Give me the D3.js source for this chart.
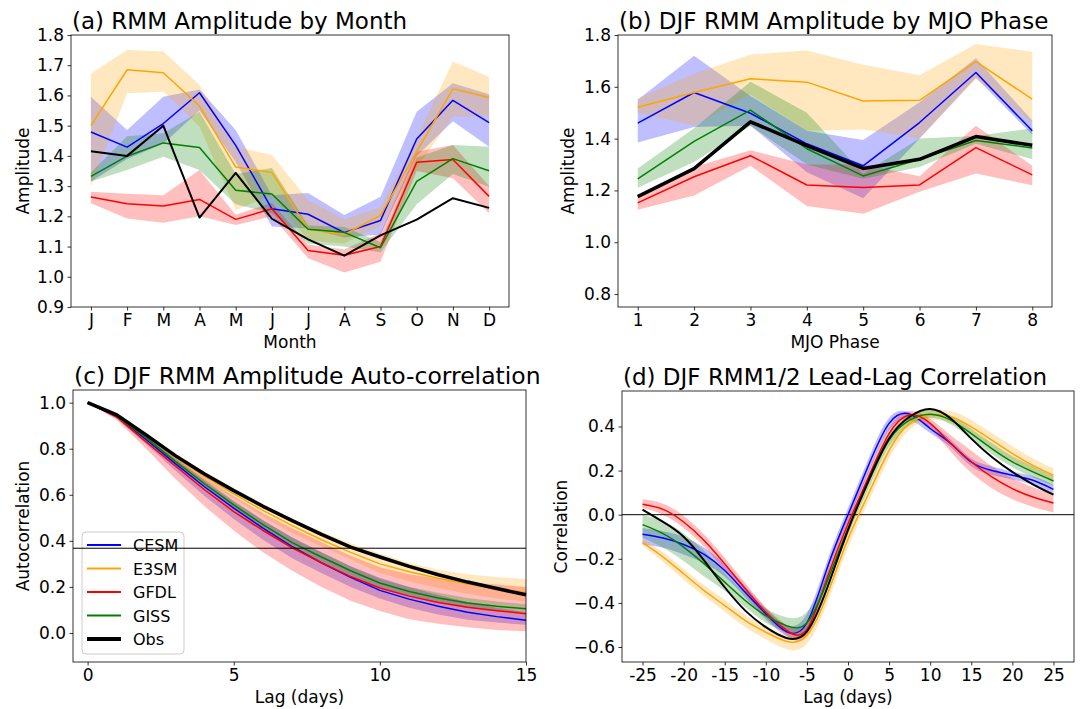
<!DOCTYPE html>
<html>
<head>
<meta charset="utf-8">
<script src="https://cdn.jsdelivr.net/npm/d3@7"></script>
<style>
  body { margin: 0; background: #fff; }
  text { font-family: "DejaVu Sans", sans-serif; fill: #000; }
</style>
</head>
<body>
<div id="chart"></div>
<script>
const COLORS = { CESM: "#0000ff", E3SM: "#ffa500", GFDL: "#ff0000", GISS: "#008000", Obs: "#000000" };
const MODELS = ["CESM", "E3SM", "GFDL", "GISS"];

// (a) RMM amplitude by month
const months = ["J", "F", "M", "A", "M", "J", "J", "A", "S", "O", "N", "D"];
const cesmMonth   = [1.479, 1.429, 1.507, 1.609, 1.435, 1.225, 1.207, 1.146, 1.186, 1.456, 1.584, 1.510];
const cesmMonthLo = [1.315, 1.39, 1.44, 1.55, 1.38, 1.166, 1.16, 1.13, 1.14, 1.40, 1.515, 1.43];
const cesmMonthHi = [1.596, 1.486, 1.596, 1.62, 1.486, 1.27, 1.277, 1.204, 1.265, 1.546, 1.64, 1.604];
const e3smMonth   = [1.50, 1.685, 1.675, 1.565, 1.363, 1.345, 1.157, 1.14, 1.203, 1.414, 1.622, 1.593];
const e3smMonthLo = [1.298, 1.607, 1.612, 1.497, 1.221, 1.27, 1.12, 1.11, 1.17, 1.36, 1.53, 1.53];
const e3smMonthHi = [1.673, 1.75, 1.745, 1.635, 1.43, 1.403, 1.254, 1.19, 1.23, 1.46, 1.712, 1.662];
const gfdlMonth   = [1.264, 1.242, 1.234, 1.256, 1.19, 1.225, 1.087, 1.071, 1.10, 1.379, 1.388, 1.266];
const gfdlMonthLo = [1.243, 1.193, 1.179, 1.20, 1.171, 1.20, 1.061, 1.014, 1.05, 1.35, 1.326, 1.21];
const gfdlMonthHi = [1.281, 1.275, 1.27, 1.353, 1.205, 1.245, 1.107, 1.09, 1.145, 1.414, 1.436, 1.30];
const gissMonth   = [1.332, 1.399, 1.443, 1.428, 1.286, 1.274, 1.157, 1.147, 1.096, 1.316, 1.391, 1.351];
const gissMonthLo = [1.315, 1.353, 1.397, 1.353, 1.24, 1.21, 1.11, 1.10, 1.08, 1.24, 1.34, 1.298];
const gissMonthHi = [1.345, 1.465, 1.475, 1.546, 1.34, 1.36, 1.17, 1.165, 1.115, 1.395, 1.436, 1.43];
const obsMonth    = [1.415, 1.40, 1.50, 1.196, 1.344, 1.192, 1.124, 1.07, 1.137, 1.189, 1.26, 1.228];

// (b) DJF RMM amplitude by MJO phase
const phases = [1, 2, 3, 4, 5, 6, 7, 8];
const cesmPhase   = [1.46, 1.578, 1.498, 1.38, 1.295, 1.462, 1.655, 1.43];
const cesmPhaseLo = [1.385, 1.445, 1.45, 1.27, 1.17, 1.40, 1.635, 1.415];
const cesmPhaseHi = [1.55, 1.72, 1.565, 1.43, 1.395, 1.54, 1.71, 1.47];
const e3smPhase   = [1.521, 1.578, 1.631, 1.618, 1.545, 1.548, 1.697, 1.552];
const e3smPhaseLo = [1.50, 1.45, 1.57, 1.43, 1.435, 1.40, 1.63, 1.46];
const e3smPhaseHi = [1.555, 1.65, 1.725, 1.74, 1.685, 1.645, 1.765, 1.735];
const gfdlPhase   = [1.152, 1.253, 1.334, 1.221, 1.211, 1.221, 1.365, 1.26];
const gfdlPhaseLo = [1.125, 1.18, 1.295, 1.14, 1.11, 1.195, 1.265, 1.22];
const gfdlPhaseHi = [1.17, 1.29, 1.355, 1.30, 1.30, 1.255, 1.45, 1.295];
const gissPhase   = [1.245, 1.389, 1.51, 1.361, 1.256, 1.32, 1.393, 1.364];
const gissPhaseLo = [1.21, 1.31, 1.45, 1.30, 1.245, 1.29, 1.38, 1.32];
const gissPhaseHi = [1.285, 1.44, 1.62, 1.50, 1.265, 1.40, 1.41, 1.44];
const obsPhase    = [1.176, 1.284, 1.465, 1.373, 1.285, 1.32, 1.408, 1.374];

// (c) DJF RMM amplitude auto-correlation
const acLags = [0, 1, 2, 3, 4, 5, 6, 7, 8, 9, 10, 11, 12, 13, 14, 15];
const cesmAc   = [1.0, 0.94, 0.84, 0.735, 0.635, 0.542, 0.455, 0.375, 0.305, 0.242, 0.185, 0.147, 0.116, 0.09, 0.071, 0.055];
const cesmAcLo = [1.0, 0.93, 0.82, 0.705, 0.595, 0.495, 0.405, 0.325, 0.26, 0.2, 0.15, 0.11, 0.08, 0.057, 0.045, 0.036];
const cesmAcHi = [1.0, 0.947, 0.855, 0.755, 0.66, 0.57, 0.49, 0.415, 0.35, 0.29, 0.24, 0.2, 0.165, 0.135, 0.11, 0.09];
const e3smAc   = [1.0, 0.945, 0.857, 0.762, 0.68, 0.604, 0.532, 0.466, 0.405, 0.35, 0.30, 0.266, 0.238, 0.213, 0.193, 0.176];
const e3smAcLo = [1.0, 0.94, 0.845, 0.745, 0.66, 0.585, 0.505, 0.435, 0.375, 0.32, 0.26, 0.225, 0.195, 0.17, 0.15, 0.137];
const e3smAcHi = [1.0, 0.95, 0.87, 0.78, 0.70, 0.63, 0.56, 0.495, 0.44, 0.39, 0.345, 0.305, 0.275, 0.255, 0.243, 0.234];
const gfdlAc   = [1.0, 0.937, 0.83, 0.725, 0.622, 0.527, 0.445, 0.37, 0.305, 0.245, 0.195, 0.16, 0.132, 0.112, 0.097, 0.084];
const gfdlAcLo = [1.0, 0.925, 0.80, 0.67, 0.55, 0.445, 0.35, 0.27, 0.20, 0.14, 0.095, 0.06, 0.04, 0.025, 0.013, 0.007];
const gfdlAcHi = [1.0, 0.95, 0.86, 0.765, 0.675, 0.595, 0.52, 0.455, 0.395, 0.335, 0.285, 0.255, 0.235, 0.22, 0.21, 0.20];
const gissAc   = [1.0, 0.942, 0.848, 0.745, 0.648, 0.556, 0.47, 0.392, 0.33, 0.27, 0.217, 0.18, 0.152, 0.13, 0.116, 0.105];
const gissAcLo = [1.0, 0.935, 0.835, 0.73, 0.63, 0.535, 0.45, 0.375, 0.31, 0.25, 0.198, 0.16, 0.13, 0.11, 0.097, 0.088];
const gissAcHi = [1.0, 0.948, 0.86, 0.76, 0.665, 0.575, 0.49, 0.415, 0.35, 0.29, 0.236, 0.2, 0.175, 0.152, 0.137, 0.125];
const obsAc    = [1.0, 0.947, 0.86, 0.77, 0.69, 0.618, 0.55, 0.488, 0.428, 0.373, 0.33, 0.289, 0.253, 0.221, 0.193, 0.166];
const efoldLevel = 0.368;

// (d) DJF RMM1/2 lead-lag correlation
const llLags = [-25, -22.5, -20, -17.5, -15, -12.5, -10, -7.5, -5, -2.5, 0, 2.5, 5, 7.5, 10, 12.5, 15, 17.5, 20, 22.5, 25];
const cesmLL   = [-0.089, -0.106, -0.135, -0.18, -0.253, -0.352, -0.45, -0.53, -0.49, -0.238, 0.0, 0.224, 0.414, 0.456, 0.391, 0.323, 0.239, 0.2, 0.179, 0.156, 0.115];
const cesmLLLo = [-0.135, -0.15, -0.18, -0.22, -0.28, -0.375, -0.475, -0.55, -0.53, -0.27, -0.03, 0.19, 0.385, 0.43, 0.37, 0.305, 0.22, 0.18, 0.16, 0.135, 0.095];
const cesmLLHi = [-0.06, -0.075, -0.10, -0.15, -0.225, -0.325, -0.425, -0.50, -0.45, -0.205, 0.03, 0.255, 0.44, 0.465, 0.41, 0.34, 0.255, 0.22, 0.195, 0.175, 0.135];
const e3smLL   = [-0.127, -0.192, -0.268, -0.344, -0.412, -0.48, -0.533, -0.574, -0.548, -0.36, -0.11, 0.095, 0.292, 0.414, 0.452, 0.444, 0.398, 0.338, 0.277, 0.224, 0.179];
const e3smLLLo = [-0.14, -0.215, -0.295, -0.37, -0.44, -0.51, -0.565, -0.61, -0.585, -0.40, -0.15, 0.06, 0.255, 0.385, 0.43, 0.415, 0.365, 0.305, 0.245, 0.19, 0.15];
const e3smLLHi = [-0.11, -0.17, -0.245, -0.32, -0.385, -0.455, -0.505, -0.545, -0.515, -0.325, -0.075, 0.13, 0.325, 0.44, 0.475, 0.47, 0.43, 0.37, 0.31, 0.255, 0.21];
const gfdlLL   = [0.047, 0.024, -0.033, -0.117, -0.223, -0.336, -0.442, -0.523, -0.52, -0.283, -0.041, 0.171, 0.368, 0.452, 0.414, 0.323, 0.24, 0.171, 0.118, 0.08, 0.053];
const gfdlLLLo = [0.03, 0.0, -0.06, -0.145, -0.25, -0.36, -0.465, -0.545, -0.55, -0.31, -0.07, 0.14, 0.34, 0.43, 0.39, 0.285, 0.19, 0.12, 0.07, 0.035, 0.01];
const gfdlLLHi = [0.07, 0.05, -0.005, -0.09, -0.195, -0.31, -0.42, -0.50, -0.49, -0.255, -0.01, 0.20, 0.395, 0.47, 0.435, 0.36, 0.29, 0.22, 0.165, 0.125, 0.095];
const gissLL   = [-0.045, -0.086, -0.147, -0.223, -0.306, -0.389, -0.458, -0.503, -0.49, -0.30, -0.064, 0.148, 0.338, 0.429, 0.456, 0.429, 0.368, 0.30, 0.24, 0.194, 0.153];
const gissLLLo = [-0.105, -0.15, -0.21, -0.28, -0.345, -0.42, -0.49, -0.535, -0.525, -0.33, -0.09, 0.12, 0.31, 0.405, 0.44, 0.41, 0.345, 0.275, 0.215, 0.17, 0.13];
const gissLLHi = [0.0, -0.03, -0.085, -0.165, -0.265, -0.355, -0.425, -0.465, -0.44, -0.265, -0.035, 0.175, 0.36, 0.45, 0.475, 0.45, 0.39, 0.325, 0.265, 0.22, 0.175];
const obsLL    = [0.023, -0.033, -0.10, -0.208, -0.329, -0.435, -0.51, -0.559, -0.53, -0.329, -0.07, 0.156, 0.345, 0.444, 0.479, 0.436, 0.345, 0.262, 0.194, 0.138, 0.091];

const W = 1085, H = 709;
const svg = d3.select("#chart").append("svg").attr("width", W).attr("height", H);
svg.append("rect").attr("width", W).attr("height", H).attr("fill", "#fff");

const minus = (s) => s.replace("-", "\u2212");

function makeSeries(xs, list) {
  return list.map(([name, vals, lo, hi]) => ({
    name,
    color: COLORS[name],
    points: xs.map((x, i) => ({ x, v: vals[i], lo: lo ? lo[i] : null, hi: hi ? hi[i] : null })),
    band: !!lo,
  }));
}

function drawPanel(cfg) {
  const { box, xDomain, yDomain, series } = cfg;
  const x = d3.scaleLinear().domain(xDomain).range([box.left, box.right]);
  const y = d3.scaleLinear().domain(yDomain).range([box.bottom, box.top]);
  const g = svg.append("g");
  const curve = cfg.curve || d3.curveLinear;

  // bands first, then lines
  const area = d3.area()
    .x((d) => x(d.x)).y0((d) => y(d.lo)).y1((d) => y(d.hi))
    .curve(curve);
  series.filter((s) => s.band).forEach((s) => {
    g.append("path").attr("d", area(s.points))
      .attr("fill", s.color).attr("fill-opacity", 0.25);
  });

  if (cfg.hline !== undefined) {
    g.append("line")
      .attr("x1", box.left).attr("x2", box.right)
      .attr("y1", y(cfg.hline)).attr("y2", y(cfg.hline))
      .attr("stroke", "#000").attr("stroke-width", 1);
  }

  const line = d3.line().x((d) => x(d.x)).y((d) => y(d.v)).curve(curve);
  series.forEach((s) => {
    g.append("path").attr("d", line(s.points))
      .attr("fill", "none").attr("stroke", s.color)
      .attr("stroke-width", s.name === "Obs" ? cfg.obsWidth : 1.5)
      .attr("stroke-linejoin", "round");
  });

  // axes
  const xAxis = d3.axisBottom(x).tickValues(cfg.xTicks).tickSize(3.5).tickPadding(3.5).tickSizeOuter(0)
    .tickFormat(cfg.xFormat);
  const yAxis = d3.axisLeft(y).tickValues(cfg.yTicks).tickSize(3.5).tickPadding(3.5).tickSizeOuter(0)
    .tickFormat(cfg.yFormat);
  const xg = g.append("g").attr("transform", `translate(0,${box.bottom})`).call(xAxis);
  const yg = g.append("g").attr("transform", `translate(${box.left},0)`).call(yAxis);
  [xg, yg].forEach((a) => {
    a.select(".domain").remove();
    a.selectAll(".tick line").attr("stroke", "#000").attr("stroke-width", 0.8);
    a.selectAll(".tick text").attr("font-size", "17px").attr("font-family", "DejaVu Sans").attr("fill", "#000");
  });

  g.append("rect")
    .attr("x", box.left).attr("y", box.top)
    .attr("width", box.right - box.left).attr("height", box.bottom - box.top)
    .attr("fill", "none").attr("stroke", "#000").attr("stroke-width", 0.8);

  // title, axis labels
  g.append("text").attr("x", box.left + 1).attr("y", box.top - 6)
    .attr("font-size", cfg.titleSize || "23px").text(cfg.title);
  g.append("text").attr("x", (box.left + box.right) / 2).attr("y", box.bottom + 41)
    .attr("text-anchor", "middle").attr("font-size", "17px").text(cfg.xLabel);
  g.append("text")
    .attr("transform", `translate(${cfg.yLabelX},${(box.top + box.bottom) / 2}) rotate(-90)`)
    .attr("text-anchor", "middle").attr("font-size", "17px").text(cfg.yLabel);

  return { g, x, y };
}

// (a)
drawPanel({
  box: { left: 71, right: 509, top: 35, bottom: 307 },
  xDomain: [-0.55, 11.55], yDomain: [0.9, 1.8],
  xTicks: d3.range(months.length), xFormat: (i) => months[i],
  yTicks: [0.9, 1.0, 1.1, 1.2, 1.3, 1.4, 1.5, 1.6, 1.7, 1.8], yFormat: d3.format(".1f"),
  title: "(a) RMM Amplitude by Month", xLabel: "Month", yLabel: "Amplitude", yLabelX: 29,
  obsWidth: 2,
  series: makeSeries(d3.range(months.length), [
    ["CESM", cesmMonth, cesmMonthLo, cesmMonthHi],
    ["E3SM", e3smMonth, e3smMonthLo, e3smMonthHi],
    ["GFDL", gfdlMonth, gfdlMonthLo, gfdlMonthHi],
    ["GISS", gissMonth, gissMonthLo, gissMonthHi],
    ["Obs", obsMonth],
  ]),
});

// (b)
drawPanel({
  box: { left: 618, right: 1052, top: 35, bottom: 307 },
  xDomain: [0.65, 8.35], yDomain: [0.75, 1.8],
  xTicks: phases, xFormat: (v) => String(v),
  yTicks: [0.8, 1.0, 1.2, 1.4, 1.6, 1.8], yFormat: d3.format(".1f"),
  title: "(b) DJF RMM Amplitude by MJO Phase", xLabel: "MJO Phase", yLabel: "Amplitude", yLabelX: 574,
  obsWidth: 3.5,
  series: makeSeries(phases, [
    ["CESM", cesmPhase, cesmPhaseLo, cesmPhaseHi],
    ["E3SM", e3smPhase, e3smPhaseLo, e3smPhaseHi],
    ["GFDL", gfdlPhase, gfdlPhaseLo, gfdlPhaseHi],
    ["GISS", gissPhase, gissPhaseLo, gissPhaseHi],
    ["Obs", obsPhase],
  ]),
});

// (c)
const pc = drawPanel({
  box: { left: 73, right: 526, top: 390, bottom: 662 },
  xDomain: [-0.5, 15], yDomain: [-0.126, 1.055],
  xTicks: [0, 5, 10, 15], xFormat: (v) => String(v),
  yTicks: [0, 0.2, 0.4, 0.6, 0.8, 1.0], yFormat: d3.format(".1f"),
  title: "(c) DJF RMM Amplitude Auto-correlation", titleSize: "23.5px",
  xLabel: "Lag (days)", yLabel: "Autocorrelation", yLabelX: 29,
  obsWidth: 3.5,
  series: makeSeries(acLags, [
    ["CESM", cesmAc, cesmAcLo, cesmAcHi],
    ["E3SM", e3smAc, e3smAcLo, e3smAcHi],
    ["GFDL", gfdlAc, gfdlAcLo, gfdlAcHi],
    ["GISS", gissAc, gissAcLo, gissAcHi],
    ["Obs", obsAc],
  ]),
});

// legend in (c)
const legendG = pc.g.append("g").attr("transform", "translate(82,532)");
legendG.append("rect").attr("width", 102).attr("height", 122).attr("rx", 4)
  .attr("fill", "#fff").attr("fill-opacity", 0.8).attr("stroke", "#cccccc").attr("stroke-width", 1);
[...MODELS, "Obs"].forEach((name, i) => {
  const yy = 13 + i * 23.5;
  legendG.append("line").attr("x1", 5).attr("x2", 39).attr("y1", yy).attr("y2", yy)
    .attr("stroke", COLORS[name]).attr("stroke-width", name === "Obs" ? 4 : 1.8);
  legendG.append("text").attr("x", 51).attr("y", yy + 6).attr("font-size", "16px").text(name);
});
// 1/e reference line drawn over the legend
pc.g.append("line")
  .attr("x1", 73).attr("x2", 526)
  .attr("y1", pc.y(efoldLevel)).attr("y2", pc.y(efoldLevel))
  .attr("stroke", "#000").attr("stroke-width", 1);

// (d)
drawPanel({
  box: { left: 622, right: 1074, top: 391, bottom: 662 },
  xDomain: [-27.5, 27.5], yDomain: [-0.668, 0.561],
  xTicks: d3.range(-25, 26, 5), xFormat: (v) => String(v),
  yTicks: [-0.6, -0.4, -0.2, 0, 0.2, 0.4], yFormat: (v) => minus(d3.format(".1f")(v)),
  title: "(d) DJF RMM1/2 Lead-Lag Correlation", xLabel: "Lag (days)", yLabel: "Correlation", yLabelX: 567,
  obsWidth: 2, hline: 0, curve: d3.curveNatural,
  series: makeSeries(llLags, [
    ["CESM", cesmLL, cesmLLLo, cesmLLHi],
    ["E3SM", e3smLL, e3smLLLo, e3smLLHi],
    ["GFDL", gfdlLL, gfdlLLLo, gfdlLLHi],
    ["GISS", gissLL, gissLLLo, gissLLHi],
    ["Obs", obsLL],
  ]),
});
</script>
</body>
</html>
